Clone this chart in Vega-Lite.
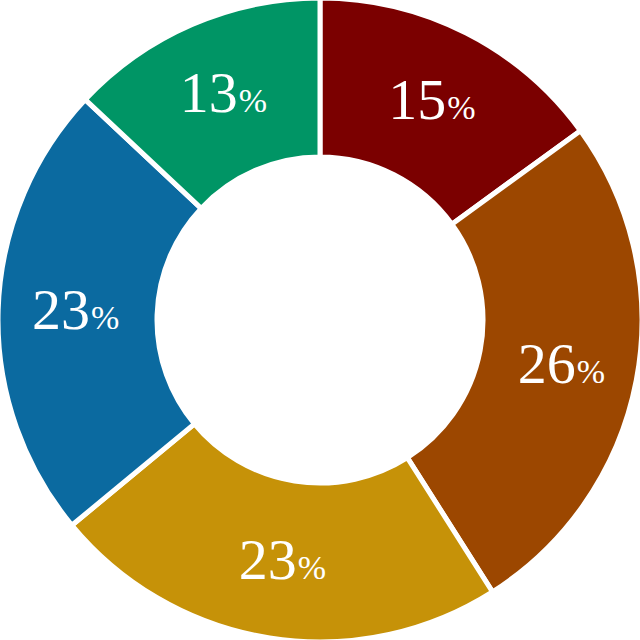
{
  "$schema": "https://vega.github.io/schema/vega-lite/v6.json",
  "width": 640,
  "height": 640,
  "autosize": {"type": "fit", "contains": "padding"},
  "padding": 0,
  "background": "white",
  "view": {"stroke": null},
  "data": {"values": [
    {"k": 1, "cat": "A", "value": 15},
    {"k": 2, "cat": "B", "value": 26},
    {"k": 3, "cat": "C", "value": 23},
    {"k": 4, "cat": "D", "value": 23},
    {"k": 5, "cat": "E", "value": 13}
  ]},
  "encoding": {
    "theta": {"field": "value", "type": "quantitative", "stack": true},
    "order": {"field": "k", "type": "quantitative"}
  },
  "layer": [
    {
      "mark": {"type": "arc", "outerRadius": 322, "innerRadius": 163, "stroke": "white", "strokeWidth": 5},
      "encoding": {
        "color": {"field": "cat", "type": "nominal", "legend": null,
          "scale": {"domain": ["A", "B", "C", "D", "E"], "range": ["#7b0000", "#9c4700", "#c69208", "#0b6aa0", "#009565"]}}
      }
    },
    {
      "mark": {"type": "text", "radius": 245, "align": "right", "baseline": "alphabetic", "dx": 15, "dy": 17, "font": "Liberation Serif", "fontSize": 58, "fill": "white"},
      "encoding": {"text": {"field": "value", "type": "quantitative"}}
    },
    {
      "mark": {"type": "text", "radius": 245, "align": "left", "baseline": "alphabetic", "dx": 16, "dy": 17, "font": "Liberation Serif", "fontSize": 34, "fill": "white", "text": "%"},
      "encoding": {}
    }
  ]
}
